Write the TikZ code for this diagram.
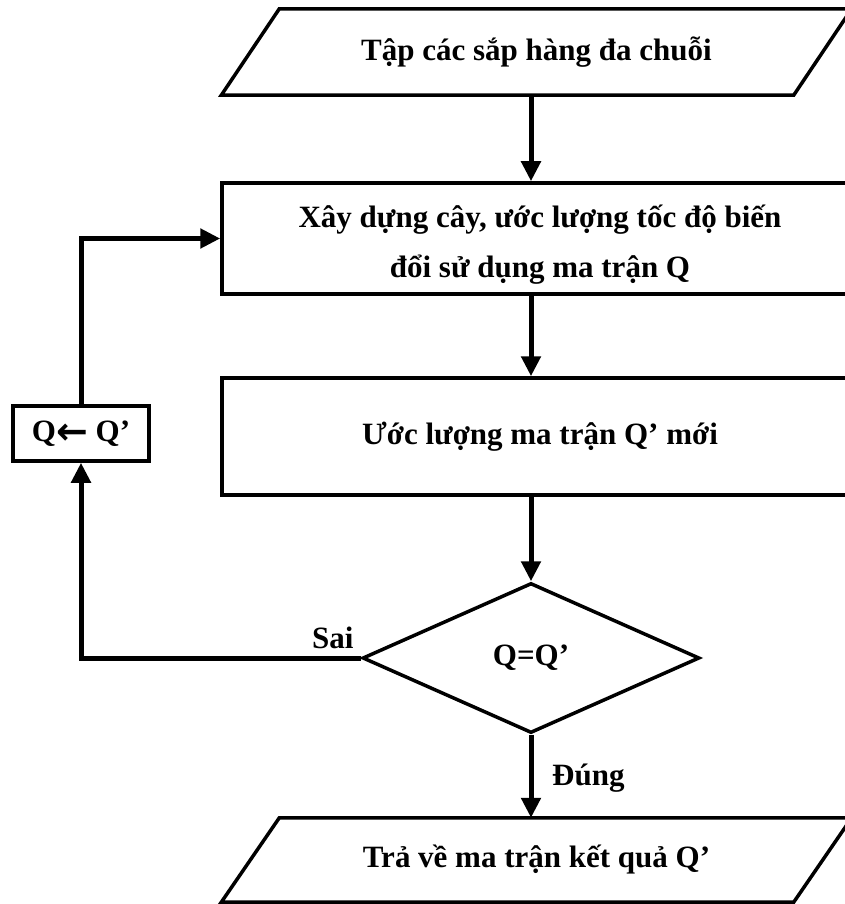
\documentclass[tikz,border=0pt]{standalone}
\usepackage{fontspec}
\setmainfont{Liberation Serif}
\newfontfamily\symfont{DejaVu Sans}
\usetikzlibrary{shapes.geometric,arrows.meta}

\tikzset{
  txt/.style={font=\bfseries\fontsize{31}{50}\selectfont,align=center,inner sep=0pt},
  iobox/.style={txt,rectangle,minimum width=572pt,minimum height=86pt},
  procbox/.style={txt,draw,line width=3.5pt,rectangle,minimum width=636pt},
  decbox/.style={txt,draw,line width=3.5pt,diamond,minimum width=337pt,minimum height=150pt},
  updbox/.style={txt,draw,line width=3.5pt,rectangle,minimum width=136pt,minimum height=55pt},
  arr/.style={line width=5pt,-{Triangle[length=20pt 0 0,width=19pt 0 0]}},
  lbl/.style={font=\bfseries\fontsize{31}{36}\selectfont,inner sep=0pt}
}

% outline of an input/output box, slanted by 29pt each side
\newcommand{\ioshape}[1]{%
  \draw[line width=3.5pt] ([xshift=-29pt]#1.south west) -- ([xshift=29pt]#1.north west)
    -- ([xshift=29pt]#1.north east) -- ([xshift=-29pt]#1.south east) -- cycle;}

\begin{document}
\begin{tikzpicture}[x=1pt,y=-1pt]
  \useasboundingbox (0,0) rectangle (845,904);
  \clip (0,0) rectangle (845,904);

  \node[iobox] (in) at (536.5,52) {Tập các sắp hàng đa chuỗi};
  \ioshape{in}
  \node[procbox,minimum height=111pt] (build) at (540,238.5)
    {\raisebox{-4pt}[\height][\depth]{\begin{tabular}{@{}c@{}}Xây dựng cây, ước lượng tốc độ biến\\đổi sử dụng ma trận Q\end{tabular}}};
  \node[procbox,minimum height=117pt] (est) at (540,436.5) {Ước lượng ma trận Q’ mới};
  \node[decbox] (dec) at (531,658) {Q=Q’};
  \node[iobox,minimum height=84pt] (out) at (536.5,860) {Trả về ma trận kết quả Q’};
  \ioshape{out}
  \node[updbox] (upd) at (81,433.5)
    {Q{\symfont\bfseries\fontsize{38}{40}\selectfont\raisebox{-3pt}{←}} Q’};

  % main flow
  \draw[arr] (in.south -| dec.north) -- (build.north -| dec.north);
  \draw[arr] (build.south -| dec.north) -- (est.north -| dec.north);
  \draw[arr] (est.south -| dec.north) -- (dec.north);
  \draw[arr] (dec.south) -- (out.north -| dec.south);

  % loop back
  \draw[arr] (dec.west) -| (upd.south);
  \draw[arr] (upd.north) |- (build.west);

  \node[lbl,anchor=south east] (no) at ([xshift=-7pt,yshift=9pt]dec.west) {Sai};
  \node[lbl,anchor=west] (yes) at (552,778) {Đúng};
\end{tikzpicture}
\end{document}
